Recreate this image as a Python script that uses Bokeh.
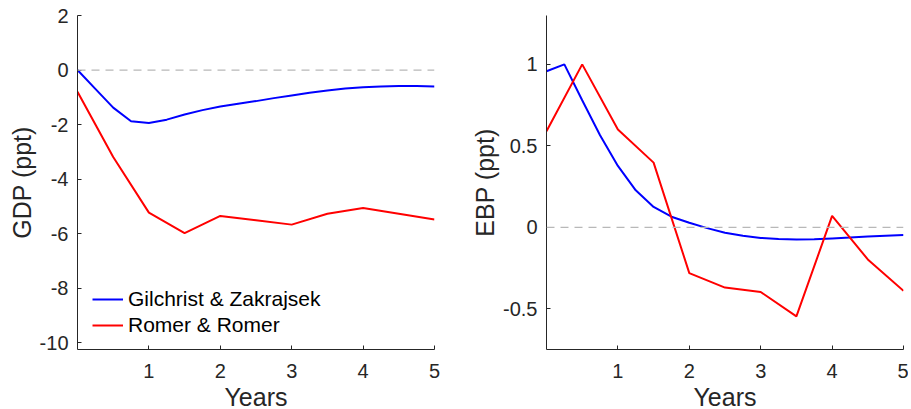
from bokeh.plotting import figure
from bokeh.layouts import row
from bokeh.models import Span, FixedTicker, Range1d, CustomJSTickFormatter
from bokeh.embed import file_html
from bokeh.resources import INLINE

# ---- data ----
years_q = [0, 0.25, 0.5, 0.75, 1.0, 1.25, 1.5, 1.75, 2.0, 2.25, 2.5, 2.75,
           3.0, 3.25, 3.5, 3.75, 4.0, 4.25, 4.5, 4.75, 5.0]
years_h = [0, 0.5, 1.0, 1.5, 2.0, 2.5, 3.0, 3.5, 4.0, 4.5, 5.0]

gdp_gz = [0.0, -0.69, -1.38, -1.88, -1.94, -1.82, -1.63, -1.47, -1.34, -1.24, -1.14, -1.03,
          -0.93, -0.83, -0.75, -0.68, -0.63, -0.60, -0.59, -0.59, -0.60]
gdp_rr = [-0.80, -3.19, -5.23, -5.98, -5.35, -5.51, -5.67, -5.27, -5.06, -5.27, -5.48]

ebp_gz = [0.958, 1.0, 0.78, 0.565, 0.377, 0.227, 0.125, 0.065, 0.028, -0.005, -0.033, -0.052,
          -0.065, -0.072, -0.075, -0.073, -0.068, -0.063, -0.057, -0.052, -0.047]
ebp_rr = [0.59, 1.0, 0.60, 0.397, -0.281, -0.37, -0.397, -0.547, 0.07, -0.197, -0.39]

x_ticks = [1, 2, 3, 4, 5]
gdp_ticks = [-10, -8, -6, -4, -2, 0, 2]
ebp_ticks = [-0.5, 0, 0.5, 1]

label_gz = "Gilchrist & Zakrajsek"
label_rr = "Romer & Romer"

FONT = "Liberation Sans"
TXT = "#262626"


def style(p, yticks, ylabel):
    p.xaxis.ticker = FixedTicker(ticks=x_ticks)
    p.yaxis.ticker = FixedTicker(ticks=yticks)
    fmt = "return tick.toString();"
    p.xaxis.formatter = CustomJSTickFormatter(code=fmt)
    p.yaxis.formatter = CustomJSTickFormatter(code=fmt)
    p.xgrid.visible = False
    p.ygrid.visible = False
    p.outline_line_color = None
    p.xaxis.axis_label = "Years"
    p.yaxis.axis_label = ylabel
    for ax in (p.xaxis, p.yaxis):
        ax.axis_line_color = TXT
        ax.axis_line_width = 1
        ax.major_tick_line_color = TXT
        ax.major_tick_in = 4
        ax.major_tick_out = 0
        ax.minor_tick_line_color = None
        ax.major_label_text_font = FONT
        ax.major_label_text_font_size = "20px"
        ax.major_label_text_color = TXT
        ax.axis_label_text_font = FONT
        ax.axis_label_text_font_size = "25px"
        ax.axis_label_text_font_style = "normal"
        ax.axis_label_text_color = TXT
    p.yaxis.major_label_standoff = 9
    p.xaxis.major_label_standoff = 14
    p.yaxis.axis_label_standoff = 1
    p.xaxis.axis_label_standoff = 2
    p.add_layout(Span(location=0, dimension="width", line_color="#b8b8b8",
                      line_width=1.2, line_dash="8 6"))


p1 = figure(frame_width=357, frame_height=334, output_backend="svg", toolbar_location=None,
            x_range=Range1d(0, 5), y_range=Range1d(-10.25, 2),
            min_border_left=77, min_border_right=34, min_border_top=15, min_border_bottom=50)
style(p1, gdp_ticks, "GDP (ppt)")
p1.line(years_q, gdp_gz, line_color="#0000ff", line_width=2, legend_label=label_gz)
p1.line(years_h, gdp_rr, line_color="#ff0000", line_width=2, legend_label=label_rr)
p1.legend.location = (15, 11)
p1.legend.padding = 0
p1.legend.margin = 0
p1.legend.spacing = 0
p1.legend.border_line_alpha = 0
p1.legend.background_fill_alpha = 0
p1.legend.glyph_width = 31
p1.legend.glyph_height = 26
p1.legend.label_height = 26
p1.legend.label_standoff = 5
p1.legend.label_text_font = FONT
p1.legend.label_text_font_size = "21px"
p1.legend.label_text_color = "#000000"

p2 = figure(frame_width=357, frame_height=334, output_backend="svg", toolbar_location=None,
            x_range=Range1d(0, 5), y_range=Range1d(-0.75, 1.3),
            min_border_left=73, min_border_right=5, min_border_top=15, min_border_bottom=50)
style(p2, ebp_ticks, "EBP (ppt)")
p2.line(years_q, ebp_gz, line_color="#0000ff", line_width=2)
p2.line(years_h, ebp_rr, line_color="#ff0000", line_width=2)

layout = row(p1, p2)
open("out.html", "w").write(file_html(layout, INLINE))
